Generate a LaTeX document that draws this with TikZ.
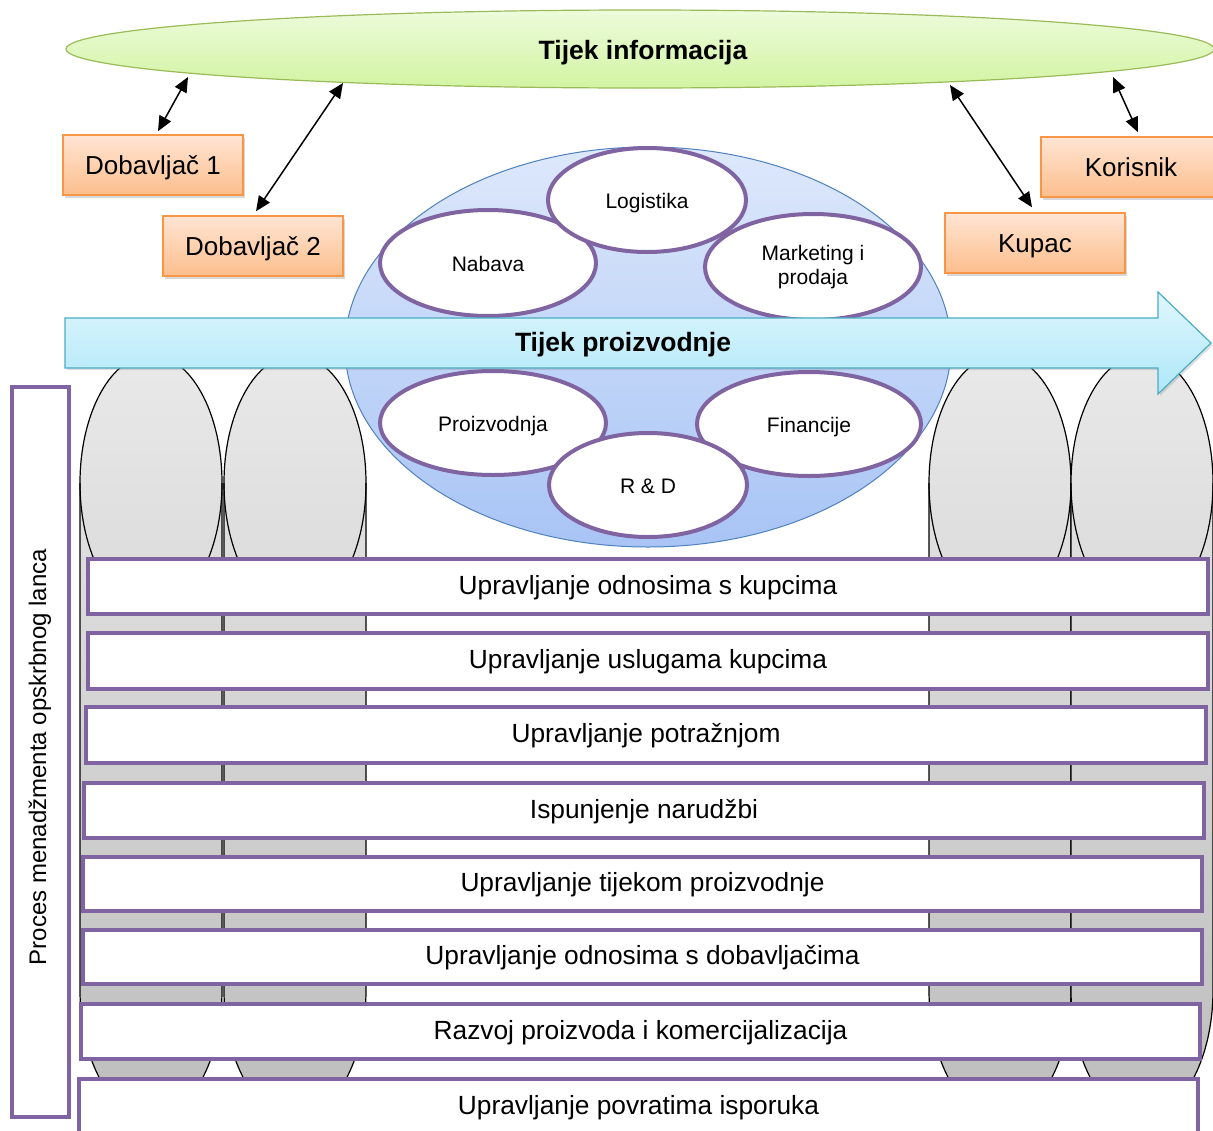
\documentclass[tikz,border=0pt]{standalone}
\usepackage{fontspec}
\setmainfont{Liberation Sans}
\usetikzlibrary{shapes.geometric,arrows.meta,shadows}
\definecolor{purp}{HTML}{8064A2}
\definecolor{greenB}{HTML}{9BBB59}
\definecolor{greenT}{HTML}{EDFBDB}
\definecolor{greenD}{HTML}{D2F4A2}
\definecolor{blueB}{HTML}{4F81BD}
\definecolor{blueT}{HTML}{DDE8FB}
\definecolor{blueD}{HTML}{A8C4F5}
\definecolor{orB}{HTML}{F79646}
\definecolor{orT}{HTML}{FFE5D4}
\definecolor{orD}{HTML}{FCBE8C}
\definecolor{cyB}{HTML}{4BACC6}
\definecolor{cyT}{HTML}{E0F7FD}
\definecolor{cyD}{HTML}{AEE7F8}
\definecolor{grT}{HTML}{E9E9E9}
\definecolor{grD}{HTML}{BDBDBD}
\begin{document}
\begin{tikzpicture}[x=1pt,y=-1pt,
  orbox/.style={draw=orB, line width=1.5pt, top color=orT, bottom color=orD,
    minimum width=180pt, minimum height=60pt, inner sep=0pt,
    text height=24pt, text depth=5.4pt,
    font=\fontsize{26}{30}\selectfont,
    drop shadow={opacity=0.3, shadow xshift=2pt, shadow yshift=-3pt}},
  dblarrow/.style={line width=1.5pt, {Triangle[length=15pt,width=13pt]}-{Triangle[length=15pt,width=13pt]}},
  funcell/.style={ellipse, draw=purp, line width=4pt, fill=white, inner sep=0pt,
    align=center, font=\fontsize{21}{24}\selectfont},
  onelinecell/.style={funcell, text height=21pt, text depth=4pt},
  pillarfill/.style={top color=grT, bottom color=grD},
  pillarline/.style={draw=black, line width=1.2pt},
  procbox/.style={draw=purp, line width=4pt, fill=white, inner sep=0pt,
    minimum width=1120pt, minimum height=55pt,
    text height=22pt, text depth=6.4pt,
    font=\fontsize{26.3}{30}\selectfont,
    drop shadow={opacity=0.2, shadow xshift=2pt, shadow yshift=-2pt}},
]
\useasboundingbox (0,0) rectangle (1213,1130);
\fill[white] (0,0) rectangle (1213,1130);

% information flow ellipse
\node[ellipse, draw=greenB, line width=1.2pt, top color=greenT, bottom color=greenD,
  minimum width=1148pt, minimum height=78pt, inner sep=0pt] (info) at (640,49) {};
\node[font=\bfseries\fontsize{26.5}{30}\selectfont] (infotxt) at (643,53) {Tijek informacija};

% partner boxes
\node[orbox] (d1) at (153,165) {Dobavljač 1};
\node[orbox] (d2) at (253,246) {Dobavljač 2};
\node[orbox] (kup) at (1035,243) {Kupac};
\node[orbox] (kor) at (1131,167) {Korisnik};

% connectors
\coordinate (i1) at (188,77);
\coordinate (i2) at (343,83);
\coordinate (i3) at (950,85);
\coordinate (i4) at (1113,77);
\draw[dblarrow] (i1) -- ([xshift=5pt,yshift=3pt]d1.north);
\draw[dblarrow] (i2) -- ([xshift=3pt,yshift=4pt]d2.north);
\draw[dblarrow] (i3) -- ([xshift=-3pt,yshift=5pt]kup.north);
\draw[dblarrow] (i4) -- ([xshift=7pt,yshift=4pt]kor.north);

% pillars
\foreach \cx in {151,295,1000,1142} {
  \path[pillarfill] (\cx-71,483) arc[start angle=180,end angle=360,x radius=71,y radius=128]
     -- (\cx+71,990) arc[start angle=0,end angle=180,x radius=71,y radius=128] -- cycle;
  \draw[pillarline] (\cx,483) ellipse[x radius=71,y radius=128];
  \draw[pillarline] (\cx-71,483) -- (\cx-71,990)
     arc[start angle=180,end angle=0,x radius=71,y radius=128] -- (\cx+71,483);
}

% central ellipse
\node[ellipse, draw=blueB, line width=1pt, top color=blueT, bottom color=blueD,
  minimum width=606pt, minimum height=400pt, inner sep=0pt] (core) at (648,347) {};

\node[onelinecell, minimum width=216pt, minimum height=106pt] (nab) at (488,263) {Nabava};
\node[funcell, minimum width=216pt, minimum height=106pt] (mkt) at (813,267) {Marketing i\\prodaja};
\node[onelinecell, minimum width=198pt, minimum height=104pt] (log) at (647,200) {Logistika};
\node[onelinecell, minimum width=226pt, minimum height=104pt] (pro) at (493,423) {Proizvodnja};
\node[onelinecell, minimum width=224pt, minimum height=104pt] (fin) at (809,424) {Financije};
\node[onelinecell, minimum width=198pt, minimum height=104pt] (rd) at (648,485) {R \& D};

% production flow arrow
\path[draw=cyB, line width=1.2pt, top color=cyT, bottom color=cyD,
  drop shadow={opacity=0.25, shadow xshift=2pt, shadow yshift=-2pt}]
  (65,318) -- (1158,318) -- (1158,292) -- (1211,343) -- (1158,394) -- (1158,368) -- (65,368) -- cycle;
\node[font=\bfseries\fontsize{26.5}{30}\selectfont] (prod) at (623,345) {Tijek proizvodnje};

% process boxes
\node[procbox] (b1) at (648,586.5) {Upravljanje odnosima s kupcima};
\node[procbox, minimum height=56pt] (b2) at (648,661) {Upravljanje uslugama kupcima};
\node[procbox, minimum height=56pt] (b3) at (646,735) {Upravljanje potražnjom};
\node[procbox] (b4) at (644,810.5) {Ispunjenje narudžbi};
\node[procbox, minimum width=1119pt, minimum height=54pt] (b5) at (642.5,884) {Upravljanje tijekom proizvodnje};
\node[procbox, minimum width=1119pt, minimum height=54pt] (b6) at (642.5,957) {Upravljanje odnosima s dobavljačima};
\node[procbox, minimum width=1119pt] (b7) at (640.5,1031.5) {Razvoj proizvoda i komercijalizacija};
\node[procbox, minimum width=1119pt, minimum height=56pt] (b8) at (638.5,1107) {Upravljanje povratima isporuka};

% side box
\node[draw=purp, line width=4pt, fill=white, inner sep=0pt, rotate=90,
  minimum width=730pt, minimum height=57pt] (side) at (40.5,752) {};
\node[rotate=90, font=\fontsize{24}{28}\selectfont] (sidetxt) at (40,757) {Proces menadžmenta opskrbnog lanca};
\end{tikzpicture}
\end{document}
